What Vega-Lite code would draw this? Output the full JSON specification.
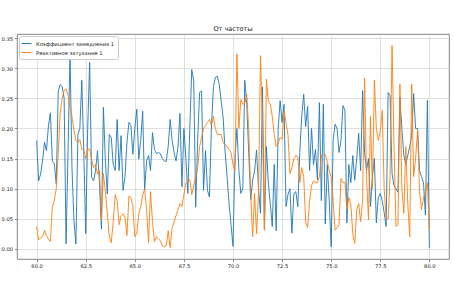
{
  "$schema": "https://vega.github.io/schema/vega-lite/v6.json",
  "width": 432,
  "height": 225,
  "autosize": {"type": "none"},
  "padding": {"left": 17, "top": 34, "right": 5, "bottom": 32},
  "background": "white",
  "config": {
    "font": "DejaVu Sans",
    "view": {"stroke": "#666666", "strokeWidth": 0.8},
    "axis": {"grid": true, "gridColor": "#d3d3d3", "gridWidth": 0.7, "domain": false, "tickColor": "#555555", "tickSize": 2.5, "tickWidth": 0.7, "labelFontSize": 5.2, "labelColor": "#222222", "labelFont": "DejaVu Sans", "title": null, "labelPadding": 2}
  },
  "title": {"text": "От частоты", "fontSize": 6.5, "fontWeight": "normal", "font": "DejaVu Sans", "color": "#222222", "offset": 2, "anchor": "middle"},
  "data": {"values": [
{"x":60.0,"k":0.18,"r":0.037},{"x":60.1,"k":0.113,"r":0.015},{"x":60.2,"k":0.124,"r":0.018},{"x":60.3,"k":0.146,"r":0.02},{"x":60.4,"k":0.177,"r":0.031},{"x":60.5,"k":0.163,"r":0.022},{"x":60.6,"k":0.204,"r":0.016},{"x":60.7,"k":0.226,"r":0.012},{"x":60.8,"k":0.146,"r":0.07},{"x":60.9,"k":0.141,"r":0.08},
{"x":61.0,"k":0.108,"r":0.1},{"x":61.1,"k":0.262,"r":0.16},{"x":61.2,"k":0.273,"r":0.225},{"x":61.3,"k":0.27,"r":0.25},{"x":61.4,"k":0.25,"r":0.263},{"x":61.5,"k":0.008,"r":0.266},{"x":61.6,"k":0.163,"r":0.255},{"x":61.7,"k":0.325,"r":0.235},{"x":61.8,"k":0.135,"r":0.22},{"x":61.9,"k":0.047,"r":0.197},
{"x":62.0,"k":0.008,"r":0.18},{"x":62.1,"k":0.19,"r":0.176},{"x":62.2,"k":0.2,"r":0.182},{"x":62.3,"k":0.28,"r":0.165},{"x":62.4,"k":0.163,"r":0.165},{"x":62.5,"k":0.025,"r":0.15},{"x":62.6,"k":0.2,"r":0.165},{"x":62.7,"k":0.31,"r":0.166},{"x":62.8,"k":0.119,"r":0.148},{"x":62.9,"k":0.113,"r":0.135},
{"x":63.0,"k":0.13,"r":0.14},{"x":63.1,"k":0.163,"r":0.124},{"x":63.2,"k":0.108,"r":0.13},{"x":63.3,"k":0.033,"r":0.047},{"x":63.4,"k":0.235,"r":0.125},{"x":63.5,"k":0.146,"r":0.095},{"x":63.6,"k":0.091,"r":0.06},{"x":63.7,"k":0.19,"r":0.02},{"x":63.8,"k":0.185,"r":0.01},{"x":63.9,"k":0.14,"r":0.045},
{"x":64.0,"k":0.13,"r":0.09},{"x":64.1,"k":0.215,"r":0.08},{"x":64.2,"k":0.13,"r":0.04},{"x":64.3,"k":0.188,"r":0.055},{"x":64.4,"k":0.097,"r":0.058},{"x":64.5,"k":0.12,"r":0.052},{"x":64.6,"k":0.177,"r":0.022},{"x":64.7,"k":0.21,"r":0.088},{"x":64.8,"k":0.205,"r":0.085},{"x":64.9,"k":0.157,"r":0.07},
{"x":65.0,"k":0.2,"r":0.02},{"x":65.1,"k":0.232,"r":0.025},{"x":65.2,"k":0.149,"r":0.058},{"x":65.3,"k":0.18,"r":0.07},{"x":65.4,"k":0.229,"r":0.088},{"x":65.5,"k":0.097,"r":0.1},{"x":65.6,"k":0.146,"r":0.065},{"x":65.7,"k":0.155,"r":0.01},{"x":65.8,"k":0.13,"r":0.095},{"x":65.9,"k":0.193,"r":0.045},
{"x":66.0,"k":0.165,"r":0.012},{"x":66.1,"k":0.158,"r":0.02},{"x":66.2,"k":0.16,"r":0.017},{"x":66.3,"k":0.158,"r":0.013},{"x":66.4,"k":0.15,"r":0.005},{"x":66.5,"k":0.146,"r":0.003},{"x":66.6,"k":0.145,"r":0.005},{"x":66.7,"k":0.17,"r":0.03},{"x":66.8,"k":0.215,"r":0.002},{"x":66.9,"k":0.18,"r":0.035},
{"x":67.0,"k":0.16,"r":0.045},{"x":67.1,"k":0.146,"r":0.055},{"x":67.2,"k":0.17,"r":0.065},{"x":67.3,"k":0.225,"r":0.075},{"x":67.4,"k":0.103,"r":0.07},{"x":67.5,"k":0.2,"r":0.09},{"x":67.6,"k":0.15,"r":0.11},{"x":67.7,"k":0.092,"r":0.113},{"x":67.8,"k":0.2,"r":0.115},{"x":67.9,"k":0.298,"r":0.09},
{"x":68.0,"k":0.279,"r":0.105},{"x":68.1,"k":0.069,"r":0.12},{"x":68.2,"k":0.18,"r":0.135},{"x":68.3,"k":0.26,"r":0.17},{"x":68.4,"k":0.262,"r":0.185},{"x":68.5,"k":0.097,"r":0.2},{"x":68.6,"k":0.163,"r":0.205},{"x":68.7,"k":0.097,"r":0.21},{"x":68.8,"k":0.086,"r":0.215},{"x":68.9,"k":0.2,"r":0.205},
{"x":69.0,"k":0.268,"r":0.22},{"x":69.1,"k":0.285,"r":0.2},{"x":69.2,"k":0.287,"r":0.19},{"x":69.3,"k":0.273,"r":0.19},{"x":69.4,"k":0.245,"r":0.19},{"x":69.5,"k":0.218,"r":0.176},{"x":69.6,"k":0.16,"r":0.173},{"x":69.7,"k":0.12,"r":0.17},{"x":69.8,"k":0.075,"r":0.165},{"x":69.9,"k":0.04,"r":0.16},
{"x":70.0,"k":0.004,"r":0.14},{"x":70.1,"k":0.15,"r":0.13},{"x":70.2,"k":0.2,"r":0.324},{"x":70.3,"k":0.13,"r":0.2},{"x":70.4,"k":0.092,"r":0.248},{"x":70.5,"k":0.1,"r":0.24},{"x":70.6,"k":0.28,"r":0.242},{"x":70.7,"k":0.24,"r":0.257},{"x":70.8,"k":0.16,"r":0.2},{"x":70.9,"k":0.081,"r":0.09},
{"x":71.0,"k":0.114,"r":0.02},{"x":71.1,"k":0.13,"r":0.092},{"x":71.2,"k":0.164,"r":0.025},{"x":71.3,"k":0.1,"r":0.09},{"x":71.4,"k":0.059,"r":0.321},{"x":71.5,"k":0.269,"r":0.21},{"x":71.6,"k":0.031,"r":0.031},{"x":71.7,"k":0.17,"r":0.282},{"x":71.8,"k":0.109,"r":0.245},{"x":71.9,"k":0.075,"r":0.24},
{"x":72.0,"k":0.037,"r":0.22},{"x":72.1,"k":0.14,"r":0.19},{"x":72.2,"k":0.03,"r":0.17},{"x":72.3,"k":0.2,"r":0.175},{"x":72.4,"k":0.246,"r":0.185},{"x":72.5,"k":0.21,"r":0.182},{"x":72.6,"k":0.24,"r":0.229},{"x":72.7,"k":0.07,"r":0.21},{"x":72.8,"k":0.09,"r":0.19},{"x":72.9,"k":0.1,"r":0.125},
{"x":73.0,"k":0.026,"r":0.135},{"x":73.1,"k":0.092,"r":0.15},{"x":73.2,"k":0.095,"r":0.155},{"x":73.3,"k":0.07,"r":0.153},{"x":73.4,"k":0.16,"r":0.11},{"x":73.5,"k":0.22,"r":0.135},{"x":73.6,"k":0.257,"r":0.12},{"x":73.7,"k":0.203,"r":0.045},{"x":73.8,"k":0.237,"r":0.035},{"x":73.9,"k":0.13,"r":0.08},
{"x":74.0,"k":0.2,"r":0.105},{"x":74.1,"k":0.14,"r":0.113},{"x":74.2,"k":0.165,"r":0.11},{"x":74.3,"k":0.115,"r":0.11},{"x":74.4,"k":0.243,"r":0.12},{"x":74.5,"k":0.08,"r":0.155},{"x":74.6,"k":0.24,"r":0.157},{"x":74.7,"k":0.041,"r":0.157},{"x":74.8,"k":0.14,"r":0.145},{"x":74.9,"k":0.08,"r":0.13},
{"x":75.0,"k":0.003,"r":0.12},{"x":75.1,"k":0.18,"r":0.08},{"x":75.2,"k":0.207,"r":0.031},{"x":75.3,"k":0.2,"r":0.035},{"x":75.4,"k":0.16,"r":0.04},{"x":75.5,"k":0.18,"r":0.117},{"x":75.6,"k":0.238,"r":0.11},{"x":75.7,"k":0.23,"r":0.11},{"x":75.8,"k":0.043,"r":0.065},{"x":75.9,"k":0.14,"r":0.085},
{"x":76.0,"k":0.11,"r":0.075},{"x":76.1,"k":0.155,"r":0.025},{"x":76.2,"k":0.114,"r":0.009},{"x":76.3,"k":0.15,"r":0.065},{"x":76.4,"k":0.192,"r":0.075},{"x":76.5,"k":0.13,"r":0.045},{"x":76.6,"k":0.263,"r":0.08},{"x":76.7,"k":0.16,"r":0.283},{"x":76.8,"k":0.13,"r":0.12},{"x":76.9,"k":0.15,"r":0.048},
{"x":77.0,"k":0.07,"r":0.22},{"x":77.1,"k":0.12,"r":0.1},{"x":77.2,"k":0.15,"r":0.28},{"x":77.3,"k":0.043,"r":0.2},{"x":77.4,"k":0.085,"r":0.18},{"x":77.5,"k":0.092,"r":0.195},{"x":77.6,"k":0.08,"r":0.23},{"x":77.7,"k":0.06,"r":0.1},{"x":77.8,"k":0.037,"r":0.05},{"x":77.9,"k":0.26,"r":0.05},
{"x":78.0,"k":0.255,"r":0.12},{"x":78.1,"k":0.125,"r":0.338},{"x":78.2,"k":0.105,"r":0.17},{"x":78.3,"k":0.1,"r":0.037},{"x":78.4,"k":0.094,"r":0.04},{"x":78.5,"k":0.252,"r":0.274},{"x":78.6,"k":0.2,"r":0.1},{"x":78.7,"k":0.155,"r":0.059},{"x":78.8,"k":0.14,"r":0.17},{"x":78.9,"k":0.155,"r":0.075},
{"x":79.0,"k":0.17,"r":0.02},{"x":79.1,"k":0.19,"r":0.274},{"x":79.2,"k":0.258,"r":0.12},{"x":79.3,"k":0.2,"r":0.15},{"x":79.4,"k":0.2,"r":0.197},{"x":79.5,"k":0.13,"r":0.095},{"x":79.6,"k":0.12,"r":0.065},{"x":79.7,"k":0.11,"r":0.085},{"x":79.8,"k":0.056,"r":0.095},{"x":79.9,"k":0.247,"r":0.11},
{"x":80.0,"k":0.001,"r":0.031}
  ]},
  "transform": [{"fold": ["k", "r"], "as": ["series", "value"]}],
  "mark": {"type": "line", "strokeWidth": 0.9, "clip": true},
  "encoding": {
    "x": {"field": "x", "type": "quantitative", "scale": {"domain": [59, 81], "nice": false, "zero": false},
          "axis": {"values": [60, 62.5, 65, 67.5, 70, 72.5, 75, 77.5, 80], "format": ".1f"}},
    "y": {"field": "value", "type": "quantitative", "scale": {"domain": [-0.017, 0.357], "nice": false, "zero": false},
          "axis": {"values": [0, 0.05, 0.1, 0.15, 0.2, 0.25, 0.3, 0.35], "format": ".2f"}},
    "color": {"field": "series", "type": "nominal",
      "scale": {"domain": ["k", "r"], "range": ["#1f77b4", "#ff7f0e"]},
      "legend": {"title": null, "orient": "none", "legendX": 2, "legendY": 2,
        "labelExpr": "datum.value == 'k' ? 'Коэффициент замедления 1' : 'Реактивное затухание 1'",
        "symbolType": "M-1.4,0H1.4", "symbolSize": 50, "symbolStrokeWidth": 1, "labelFontSize": 5.2, "labelColor": "#222222",
        "fillColor": "white", "strokeColor": "#cccccc", "padding": 3, "cornerRadius": 2, "rowPadding": 1, "labelOffset": 5}},
    "order": {"field": "x"}
  }
}
